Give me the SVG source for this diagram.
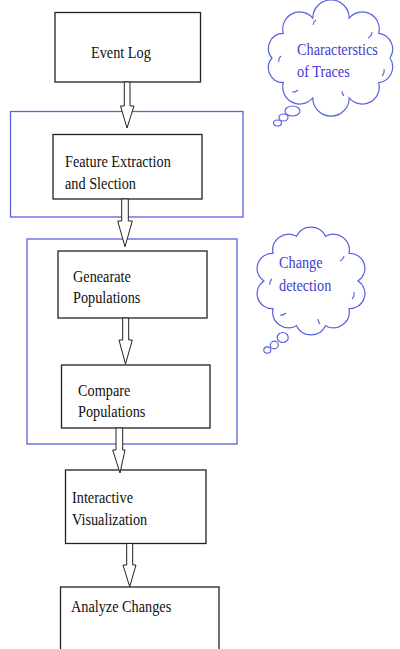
<svg xmlns="http://www.w3.org/2000/svg" width="400" height="649" viewBox="0 0 400 649">
<style>
.bx{fill:#fff;stroke:#222;stroke-width:1.3}
.grp{fill:none;stroke:#5a62e0;stroke-width:1.3}
.ar{fill:#fff;stroke:#222;stroke-width:1;stroke-linejoin:miter}
.t{font-family:"Liberation Serif","Times New Roman",serif;font-size:17px;fill:#111}
.bt{font-family:"Liberation Serif","Times New Roman",serif;font-size:17px;fill:#3c3cd0}
.cl{fill:#fff;stroke:#5a62e0;stroke-width:1.2}
</style>
<rect width="400" height="649" fill="#fff"/>
<g id="groups">
<rect id="group-features" class="grp" x="10.5" y="111.5" width="232.5" height="105.5"/>
<rect id="group-detection" class="grp" x="27" y="239" width="210" height="205"/>
</g>
<g id="event-log"><rect class="bx" x="55" y="12.5" width="145.5" height="69.5"/><text class="t" transform="translate(91 58) scale(0.84 1)">Event Log</text></g>
<g id="feature-extraction"><rect class="bx" x="53" y="134.5" width="149" height="64.5"/><text class="t" transform="translate(65 166.5) scale(0.84 1)">Feature Extraction</text><text class="t" transform="translate(65 189) scale(0.84 1)">and Slection</text></g>
<g id="generate-populations"><rect class="bx" x="58" y="251" width="149" height="67"/><text class="t" transform="translate(73 281.5) scale(0.84 1)">Genearate</text><text class="t" transform="translate(73 303) scale(0.84 1)">Populations</text></g>
<g id="compare-populations"><rect class="bx" x="61.5" y="365" width="148.5" height="63"/><text class="t" transform="translate(78 395.5) scale(0.84 1)">Compare</text><text class="t" transform="translate(78 417) scale(0.84 1)">Populations</text></g>
<g id="interactive-visualization"><rect class="bx" x="65.5" y="470" width="140.5" height="73.5"/><text class="t" transform="translate(72 502.5) scale(0.84 1)">Interactive</text><text class="t" transform="translate(72 525) scale(0.84 1)">Visualization</text></g>
<g id="analyze-changes"><rect class="bx" x="60.5" y="587" width="158.5" height="70"/><text class="t" transform="translate(71 612) scale(0.84 1)">Analyze Changes</text></g>
<g id="connectors">
<polygon class="ar" points="124.3,82 130,82 130,106 134,106 127,128 120.5,106 124.3,106"/>
<polygon class="ar" points="121.7,199 128.3,199 128.3,221 132.3,221 125,246.7 117.7,221 121.7,221"/>
<polygon class="ar" points="122.7,318 128.7,318 128.7,340 132.3,340 125.5,364 119,340 122.7,340"/>
<polygon class="ar" points="116,428 122.7,428 122.7,450 125,450 120,473 112.7,450 116,450"/>
<polygon class="ar" points="126.7,543.5 132.7,543.5 132.7,565 136,565 129.7,586.7 123,565 126.7,565"/>
</g>
<g id="cloud-traces">
<path class="cl" d="M390,58 A16,16 0 0 1 378.7,82.7 A17,17 0 0 1 349.2,97.9 A17,17 0 0 1 312.8,97.9 A17,17 0 0 1 283.3,82.7 A15,15 0 0 1 272,58 A15,15 0 0 1 283.3,33.3 A17,17 0 0 1 312.8,18.1 A17,17 0 0 1 349.2,18.1 A17,17 0 0 1 378.7,33.3 A16,16 0 0 1 390,58 Z"/>
<path fill="none" stroke="#5a62e0" stroke-width="1.1" d="M279,62 a6,6 0 0 1 2,-6 M292,92 a8,8 0 0 0 6,-2 M344,96 a7,7 0 0 1 -2,-5 M382,76 a8,8 0 0 0 2,-7 M372,32 a7,7 0 0 1 -4,6 M316,20 a8,8 0 0 0 -3,5"/>
<ellipse class="cl" cx="292.5" cy="111" rx="7.5" ry="5"/>
<ellipse class="cl" cx="283.5" cy="117.5" rx="4.5" ry="3.5"/>
<ellipse class="cl" cx="277.5" cy="123" rx="4" ry="3"/>
<text class="bt" transform="translate(297 55) scale(0.84 1)">Characterstics</text>
<text class="bt" transform="translate(297 77) scale(0.84 1)">of Traces</text>
</g>
<g id="cloud-change">
<path class="cl" d="M358,281 A15,15 0 0 1 349,308.6 A16,16 0 0 1 325.5,325.7 A16,16 0 0 1 296.5,325.7 A16,16 0 0 1 273,308.6 A15,15 0 0 1 264,281 A15,15 0 0 1 273,253.4 A16,16 0 0 1 296.5,236.3 A16,16 0 0 1 325.5,236.3 A16,16 0 0 1 349,253.4 A15,15 0 0 1 358,281 Z"/>
<path fill="none" stroke="#5a62e0" stroke-width="1.1" d="M270,285 a6,6 0 0 1 2,-6 M280,315 a7,7 0 0 0 6,-2 M320,324 a7,7 0 0 1 -2,-5 M352,299 a8,8 0 0 0 2,-7 M344,256 a7,7 0 0 1 -4,5"/>
<ellipse class="cl" cx="282.7" cy="337.5" rx="5.5" ry="5"/>
<ellipse class="cl" cx="274.3" cy="345" rx="4" ry="3.8"/>
<ellipse class="cl" cx="267.3" cy="350" rx="3.5" ry="3.2"/>
<text class="bt" transform="translate(279 268) scale(0.84 1)">Change</text>
<text class="bt" transform="translate(279 291) scale(0.84 1)">detection</text>
</g>
</svg>
